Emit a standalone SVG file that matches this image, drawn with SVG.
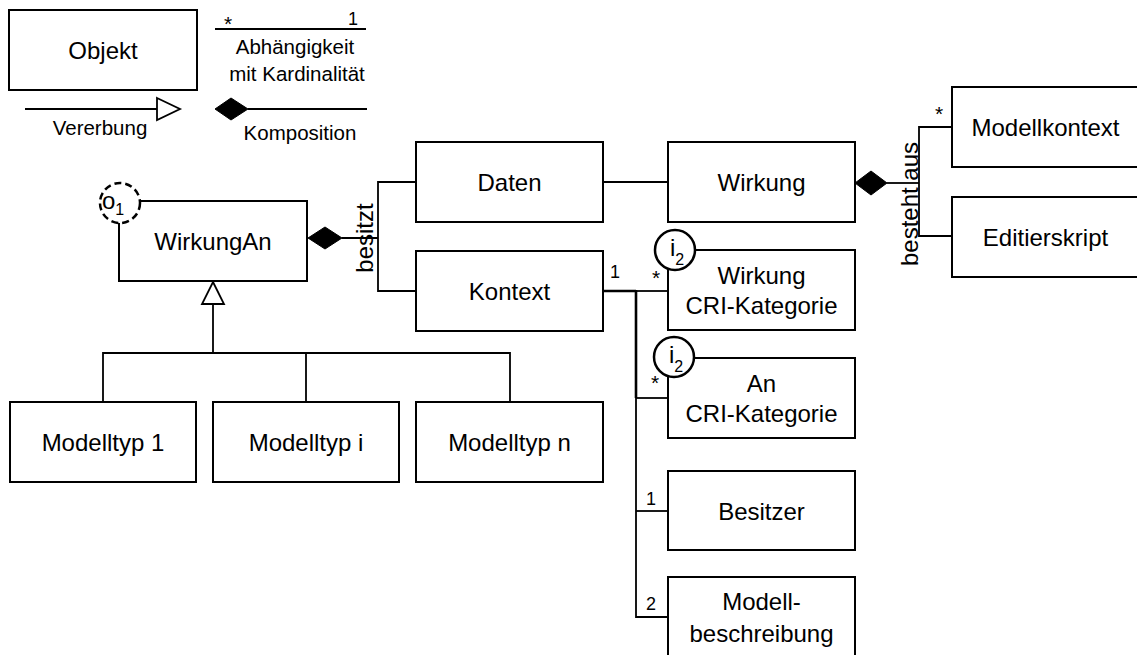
<svg xmlns="http://www.w3.org/2000/svg" width="1137" height="655" viewBox="0 0 1137 655">
<style>
.box{fill:#fff;stroke:#000;stroke-width:2}
.ln{fill:none;stroke:#000;stroke-width:1.8}
.tk{fill:none;stroke:#000;stroke-width:2.6}
.t{font-family:"Liberation Sans",Arial,sans-serif;font-size:24px;text-anchor:middle;fill:#000}
.s{font-family:"Liberation Sans",Arial,sans-serif;font-size:20.5px;text-anchor:middle;fill:#000}
.c{font-family:"Liberation Sans",Arial,sans-serif;font-size:18px;text-anchor:middle;fill:#000}
.st{font-family:"Liberation Sans",Arial,sans-serif;font-size:21px;text-anchor:middle;fill:#000}
.m{font-family:"Liberation Sans",Arial,sans-serif;font-size:24px;text-anchor:start;fill:#000}
.sub{font-size:16px}
.dia{fill:#000;stroke:#000;stroke-width:1}
.tri{fill:#fff;stroke:#000;stroke-width:1.8}
.mark{fill:#fff;stroke:#000;stroke-width:2.5}
</style>
<rect width="1137" height="655" fill="#fff"/>

<g id="legend">
  <rect class="box" x="9" y="10" width="188" height="80"/>
  <text class="t" x="103" y="59">Objekt</text>
  <line class="ln" x1="215" y1="29" x2="366" y2="29"/>
  <text class="st" x="228" y="31">*</text>
  <text class="c" x="353" y="25">1</text>
  <text class="s" x="295" y="54">Abhängigkeit</text>
  <text class="s" x="297" y="81">mit Kardinalität</text>
  <line class="ln" x1="25" y1="109" x2="157" y2="109"/>
  <polygon class="tri" points="157,98 180,109 157,120"/>
  <text class="s" x="100" y="135">Vererbung</text>
  <polygon class="dia" points="215,109 231,98 248,109 231,120"/>
  <line class="ln" x1="248" y1="109" x2="367" y2="109"/>
  <text class="s" x="300" y="140">Komposition</text>
</g>

<g id="connectors">
  <polygon class="dia" points="308,238 325,227 342,238 325,249"/>
  <line class="ln" x1="342" y1="238" x2="378" y2="238"/>
  <polyline class="ln" points="416,182 378,182 378,291 416,291"/>
  <text class="t" transform="translate(373,238) rotate(-90)">besitzt</text>
  <line class="ln" x1="603" y1="182" x2="668" y2="182"/>
  <polygon class="dia" points="855,183 871,171 887,183 871,195"/>
  <line class="ln" x1="887" y1="183" x2="919" y2="183"/>
  <polyline class="ln" points="952,127 919,127 919,236 952,236"/>
  <text class="t" transform="translate(918,204) rotate(-90)">besteht aus</text>
  <text class="st" x="939" y="121">*</text>
  <polygon class="tri" points="213,282 224,304 202,304"/>
  <line class="ln" x1="213" y1="304" x2="213" y2="353"/>
  <polyline class="ln" points="103,402 103,353 510,353 510,402"/>
  <line class="ln" x1="306" y1="353" x2="306" y2="402"/>
  <line class="tk" x1="603" y1="291" x2="636" y2="291"/>
  <line class="tk" x1="636" y1="290" x2="636" y2="398"/>
  <polyline class="ln" points="636,398 636,617 668,617"/>
  <line class="ln" x1="636" y1="291" x2="668" y2="291"/>
  <line class="ln" x1="636" y1="398" x2="668" y2="398"/>
  <line class="ln" x1="636" y1="511" x2="668" y2="511"/>
  <text class="c" x="615" y="278">1</text>
  <text class="st" x="656" y="285">*</text>
  <text class="st" x="655" y="390">*</text>
  <text class="c" x="651" y="505">1</text>
  <text class="c" x="651" y="610">2</text>
</g>

<g id="WirkungAn">
  <rect class="box" x="119" y="201" width="188" height="80"/>
  <text class="t" x="213" y="250">WirkungAn</text>
  <circle cx="120" cy="203" r="20" fill="#fff" stroke="#000" stroke-width="2.5" stroke-dasharray="7 4"/>
  <text class="m" x="102" y="209">o<tspan class="sub" dy="6">1</tspan></text>
</g>
<g id="Daten">
  <rect class="box" x="416" y="142" width="187" height="80"/>
  <text class="t" x="509.5" y="191">Daten</text>
</g>
<g id="Kontext">
  <rect class="box" x="416" y="251" width="187" height="80"/>
  <text class="t" x="509.5" y="300">Kontext</text>
</g>
<g id="Wirkung">
  <rect class="box" x="668" y="142" width="187" height="80"/>
  <text class="t" x="761.5" y="191">Wirkung</text>
</g>
<g id="Modellkontext">
  <rect class="box" x="952" y="87" width="187" height="80"/>
  <text class="t" x="1045.5" y="136">Modellkontext</text>
</g>
<g id="Editierskript">
  <rect class="box" x="952" y="197" width="187" height="80"/>
  <text class="t" x="1045.5" y="246">Editierskript</text>
</g>
<g id="WirkungCRI">
  <rect class="box" x="668" y="250" width="187" height="80"/>
  <text class="t" x="761.5" y="284">Wirkung</text>
  <text class="t" x="761.5" y="314">CRI-Kategorie</text>
  <circle class="mark" cx="675" cy="250" r="20"/>
  <text class="m" x="670" y="256">i<tspan class="sub" dy="9">2</tspan></text>
</g>
<g id="AnCRI">
  <rect class="box" x="668" y="358" width="187" height="80"/>
  <text class="t" x="761.5" y="392">An</text>
  <text class="t" x="761.5" y="422">CRI-Kategorie</text>
  <circle class="mark" cx="674" cy="357" r="20"/>
  <text class="m" x="669" y="363">i<tspan class="sub" dy="9">2</tspan></text>
</g>
<g id="Besitzer">
  <rect class="box" x="668" y="471" width="187" height="79"/>
  <text class="t" x="761.5" y="520">Besitzer</text>
</g>
<g id="Modellbeschreibung">
  <rect class="box" x="668" y="577" width="187" height="80"/>
  <text class="t" x="761.5" y="610">Modell-</text>
  <text class="t" x="761.5" y="642">beschreibung</text>
</g>
<g id="Modelltyp1">
  <rect class="box" x="10" y="402" width="186" height="80"/>
  <text class="t" x="103" y="451">Modelltyp 1</text>
</g>
<g id="Modelltypi">
  <rect class="box" x="213" y="402" width="186" height="80"/>
  <text class="t" x="306" y="451">Modelltyp i</text>
</g>
<g id="Modelltypn">
  <rect class="box" x="416" y="402" width="187" height="80"/>
  <text class="t" x="509.5" y="451">Modelltyp n</text>
</g>
</svg>
